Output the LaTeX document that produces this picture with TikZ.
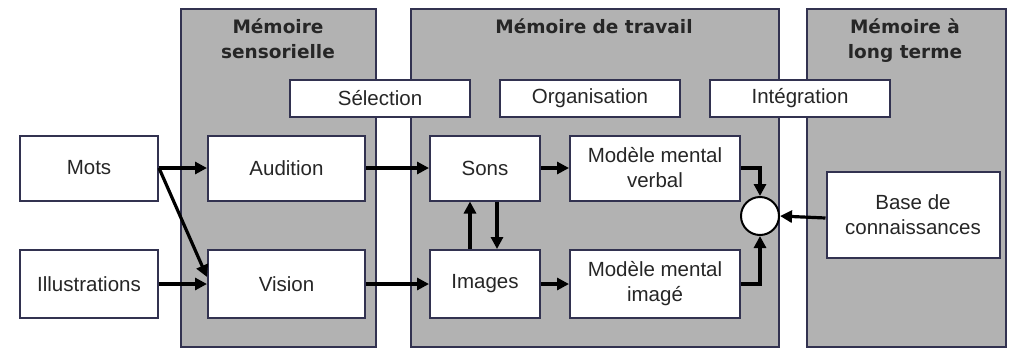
\documentclass[tikz,border=0pt]{standalone}
\usepackage{fontspec}
\setmainfont{Liberation Sans}
\newfontfamily\titlefont{DejaVu Sans}
\usetikzlibrary{arrows.meta}
\definecolor{panelgray}{RGB}{178,178,178}
\definecolor{edgecol}{RGB}{50,50,80}
\begin{document}
\begin{tikzpicture}[x=1pt,y=-1pt,
  panel/.style={draw=edgecol, fill=panelgray, line width=2pt, anchor=north west, inner sep=0},
  box/.style={draw=edgecol, fill=white, line width=2pt, align=center, inner sep=0,
              font=\fontsize{20.5}{25}\selectfont, text=black!85},
  title/.style={font=\titlefont\bfseries\fontsize{18.5}{25}\selectfont, align=center, anchor=north, text=black!85},
  arr/.style={line width=3.2pt, -{Triangle[length=12pt,width=12pt]}}]
\useasboundingbox (0,0) rectangle (1010,349);
% panels
\node[panel, minimum width=195, minimum height=338] (ps) at (180,8) {};
\node[panel, minimum width=368, minimum height=338] (pt) at (410,8) {};
\node[panel, minimum width=199, minimum height=338] (pl) at (806,8) {};
% titles
\node[title] (ts) at (278,15) {Mémoire\\sensorielle};
\node[title] (tt) at (594,15) {Mémoire de travail};
\node[title] (tl) at (905,15) {Mémoire à\\long terme};
% process boxes
\node[box, minimum width=180, minimum height=37] (sel) at (380,98.5) {Sélection};
\node[box, minimum width=180, minimum height=37] (org) at (590,98.5) {Organisation};
\node[box, minimum width=180, minimum height=37] (integ) at (800,98.5) {Intégration};
% content boxes
\node[box, minimum width=138, minimum height=65] (mots) at (89,168) {Mots};
\node[box, minimum width=138, minimum height=68] (illus) at (89,284) {Illustrations};
\node[box, minimum width=157, minimum height=65] (aud) at (286.5,168) {Audition};
\node[box, minimum width=157, minimum height=68] (vis) at (286.5,284) {Vision};
\node[box, minimum width=110, minimum height=65] (sons) at (485,168) {Sons};
\node[box, minimum width=110, minimum height=68] (img) at (485,284) {Images};
\node[box, minimum width=170, minimum height=65] (mmv) at (655,168) {Modèle mental\\verbal};
\node[box, minimum width=170, minimum height=68] (mmi) at (655,284) {Modèle mental\\imagé};
\node[box, minimum width=173, minimum height=86] (base) at (913,215) {Base de\\connaissances};
\node[draw=black, fill=white, line width=2pt, circle, minimum size=38, inner sep=0] (circ) at (760,216) {};
% connectors
\draw[arr] (mots.east) -- (aud.west);
\draw[arr] (mots.east) -- ([yshift=7pt]vis.west);
\draw[arr] (illus.east) -- (vis.west);
\draw[arr] (aud.east) -- (sons.west);
\draw[arr] (vis.east) -- (img.west);
\draw[arr] (sons.east) -- (mmv.west);
\draw[arr] (img.east) -- (mmi.west);
\draw[arr] ([xshift=-15pt]img.north) -- ([xshift=-15pt]sons.south);
\draw[arr] ([xshift=12pt]sons.south) -- ([xshift=12pt]img.north);
\draw[arr] (mmv.east) -| (circ.north);
\draw[arr] (mmi.east) -| (circ.south);
\draw[arr] ([yshift=-3pt]base.west) -- (circ.east);
\end{tikzpicture}
\end{document}
